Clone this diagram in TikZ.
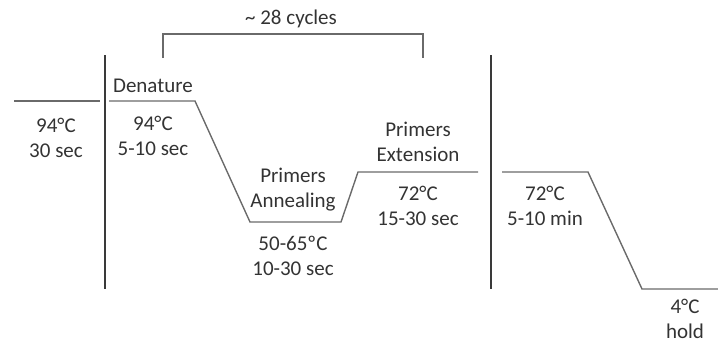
\documentclass[tikz,border=0pt]{standalone}
\usepackage{fontspec}
\setmainfont{Carlito}
\definecolor{txt}{HTML}{333333}
\definecolor{ln}{HTML}{6a6a6a}
\definecolor{vln}{HTML}{3a3a3a}
\tikzset{
  lbl/.style={text=txt, font=\fontsize{21}{25}\selectfont, align=center, inner sep=0pt},
  prof/.style={draw=ln, line width=1.4pt},
  sep/.style={draw=vln, line width=2pt},
}
\begin{document}
\begin{tikzpicture}[x=1pt,y=-1pt]
\useasboundingbox (0,0) rectangle (718,343);
% profile points
\coordinate (a0) at (14,101);
\coordinate (a1) at (100,101);
\coordinate (b0) at (109,101);
\coordinate (b1) at (195,101);
\coordinate (c0) at (250,222);
\coordinate (c1) at (341,222);
\coordinate (d0) at (358,172);
\coordinate (d1) at (478,172);
\coordinate (e0) at (502,172);
\coordinate (e1) at (588,172);
\coordinate (f0) at (642,289);
\coordinate (f1) at (718,289);
% separators
\coordinate (v1t) at (105,55);
\coordinate (v1b) at (105,289);
\coordinate (v2t) at (491,55);
\coordinate (v2b) at (491,289);
% bracket
\coordinate (k0) at (163,58);
\coordinate (k1) at (163,34);
\coordinate (k2) at (423,34);
\coordinate (k3) at (423,58);

\draw[prof] (a0) -- (a1);
\draw[prof] (b0) -- (b1) -- (c0) -- (c1) -- (d0) -- (d1);
\draw[prof] (e0) -- (e1) -- (f0) -- (f1);
\draw[sep] (v1t) -- (v1b);
\draw[sep] (v2t) -- (v2b);
\draw[prof] (k0) -- (k1) -- (k2) -- (k3);

\node[lbl] (cyc) at (291,19) {\textasciitilde\ 28 cycles};
\node[lbl] (den) at (153,86) {Denature};
\node[lbl] (t1) at (56,138) {94°C\\30 sec};
\node[lbl] (t2) at (153,136) {94°C\\5-10 sec};
\node[lbl] (ann) at (293,190) {Primers\\Annealing};
\node[lbl] (t3) at (293,256) {50-65ºC\\10-30 sec};
\node[lbl] (ext) at (418,142) {Primers\\Extension};
\node[lbl] (t4) at (418,206) {72°C\\15-30 sec};
\node[lbl] (t5) at (545,206) {72°C\\5-10 min};
\node[lbl] (t6) at (685,319) {4°C\\hold};
\end{tikzpicture}
\end{document}
